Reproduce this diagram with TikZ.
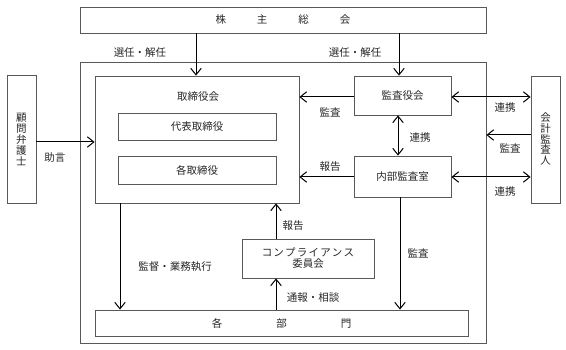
\documentclass[tikz,border=0pt]{standalone}
\usepackage{fontspec}
\newfontfamily\jp{Noto Sans CJK JP}
\usetikzlibrary{arrows.meta}
\begin{document}
\begin{tikzpicture}[x=1pt,y=-1pt,
  box/.style={draw=black!65, line width=0.8pt, inner sep=0pt, font=\jp\fontsize{10.5}{12}\selectfont, text=black!85},
  arr/.style={line width=1pt, -{Straight Barb[length=6.5pt,width=10.5pt,line width=1pt]}},
  darr/.style={line width=1pt, {Straight Barb[length=6.5pt,width=10.5pt,line width=1pt]}-{Straight Barb[length=6.5pt,width=10.5pt,line width=1pt]}},
  lbl/.style={font=\jp\fontsize{10.5}{12}\selectfont, text=black!85, inner sep=0pt},
  vtext/.style={font=\jp\fontsize{10.5}{10.8}\selectfont, text=black!85, align=center}]
\useasboundingbox (0,0) rectangle (566,350);
% boxes
\node[box, minimum width=406pt, minimum height=26pt] (soukai) at (283,20) {株\hspace{31pt}主\hspace{31pt}総\hspace{31pt}会};
\node[box, minimum width=406pt, minimum height=281pt] (outer) at (283,202.5) {};
\node[box, minimum width=204pt, minimum height=127pt] (board) at (197,139.5) {};
\node[lbl] (boardlbl) at (198,97) {取締役会};
\node[box, minimum width=158pt, minimum height=27pt] (daihyo) at (197,126.5) {代表取締役};
\node[box, minimum width=158pt, minimum height=28pt] (kaku) at (197,170) {各取締役};
\node[box, minimum width=97pt, minimum height=39pt] (kansa) at (402.5,95.5) {監査役会};
\node[box, minimum width=97pt, minimum height=41pt] (naibu) at (402.5,176.5) {内部監査室};
\node[box, minimum width=29pt, minimum height=128pt] (komon) at (21.5,139) {};
\node[vtext] (komonlbl) at (21.5,139.5) {顧\\問\\弁\\護\\士};
\node[box, minimum width=29pt, minimum height=127pt] (kaikei) at (545.5,139.5) {};
\node[vtext] (kaikeilbl) at (545.5,139) {会\\計\\監\\査\\人};
\node[box, minimum width=132pt, minimum height=39pt, align=center] (comp) at (308,258.5) {コ\hspace{1.2pt}ン\hspace{1.2pt}プ\hspace{1.2pt}ラ\hspace{1.2pt}イ\hspace{1.2pt}ア\hspace{1.2pt}ン\hspace{1.2pt}ス\\[-1pt]委員会};
\node[box, minimum width=373pt, minimum height=26pt] (bumon) at (281.5,323) {各\hspace{54pt}部\hspace{54pt}門};
% arrows
\draw[arr] (soukai.south -| 196,0) -- (board.north -| 196,0);
\draw[arr] (soukai.south -| 399,0) -- (kansa.north -| 399,0);
\draw[arr] (kansa.west |- 0,97) -- (board.east |- 0,97);
\draw[darr] (kansa.east |- 0,97) -- (kaikei.west |- 0,97);
\draw[arr] (kaikei.west |- 0,135) -- (outer.east |- 0,135);
\draw[darr] (kansa.south -| 398,0) -- (naibu.north -| 398,0);
\draw[arr] (naibu.west |- 0,177) -- (board.east |- 0,177);
\draw[darr] (naibu.east |- 0,177) -- (kaikei.west |- 0,177);
\draw[arr] (naibu.south -| 400,0) -- (bumon.north -| 400,0);
\draw[arr] (board.south -| 120,0) -- (bumon.north -| 120,0);
\draw[arr] (comp.north -| 276,0) -- (board.south -| 276,0);
\draw[arr] (bumon.north -| 276,0) -- (comp.south -| 276,0);
\draw[arr] (komon.east |- 0,142) -- (board.west |- 0,142);
% labels
\node[lbl] (l1) at (140,53) {選任・解任};
\node[lbl] (l2) at (355,53) {選任・解任};
\node[lbl] (l3) at (330,112) {監査};
\node[lbl] (l4) at (330,167) {報告};
\node[lbl] (l5) at (505,108) {連携};
\node[lbl] (l6) at (510,148) {監査};
\node[lbl] (l7) at (505,192) {連携};
\node[lbl] (l8) at (420,138) {連携};
\node[lbl] (l9) at (418,253) {監査};
\node[lbl] (l10) at (175,267) {監督・業務執行};
\node[lbl] (l11) at (293,226) {報告};
\node[lbl] (l12) at (313,298) {通報・相談};
\node[lbl] (l13) at (55,158) {助言};
\end{tikzpicture}
\end{document}
